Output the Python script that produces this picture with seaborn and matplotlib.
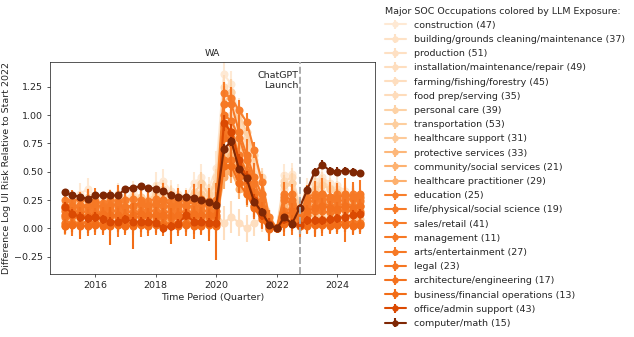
import numpy as np
import pandas as pd
import matplotlib
matplotlib.use("Agg")
import matplotlib.pyplot as plt
import seaborn as sns
from matplotlib.legend_handler import HandlerTuple

# ---------------- data ----------------
quarters = list(np.arange(2015.0, 2025.0, 0.25))  # 2015Q1 .. 2024Q4

occupations = [
    "construction (47)", "building/grounds cleaning/maintenance (37)", "production (51)",
    "installation/maintenance/repair (49)", "farming/fishing/forestry (45)", "food prep/serving (35)",
    "personal care (39)", "transportation (53)", "healthcare support (31)", "protective services (33)",
    "community/social services (21)", "healthcare practitioner (29)", "education (25)",
    "life/physical/social science (19)", "sales/retail (41)", "management (11)",
    "arts/entertainment (27)", "legal (23)", "architecture/engineering (17)",
    "business/financial operations (13)", "office/admin support (43)", "computer/math (15)",
]
llm_exposure = [0.10, 0.15, 0.16, 0.17, 0.17, 0.18, 0.24, 0.26, 0.27, 0.34, 0.36, 0.37,
                0.55, 0.56, 0.56, 0.57, 0.57, 0.58, 0.59, 0.61, 0.74, 1.00]

construction = [0.22,0.25,0.30,0.35,0.28,0.24,0.27,0.30,0.26,0.32,0.28,0.25,0.38,0.42,0.33,0.30,0.28,0.40,0.45,0.35,
                0.53,1.36,1.27,1.00,0.75,0.55,0.42,0.10,0.00,0.47,0.48,0.20,0.35,0.42,0.45,0.40,0.38,0.33,0.30,0.28]
construction_err = [0.08,0.07,0.10,0.09,0.08,0.07,0.08,0.10,0.09,0.10,0.08,0.08,0.12,0.10,0.10,0.09,0.08,0.10,0.12,0.10,
                    0.15,0.12,0.12,0.15,0.13,0.12,0.10,0.08,0.00,0.10,0.10,0.10,0.09,0.10,0.10,0.09,0.09,0.08,0.09,0.08]
building = [0.12,0.15,0.18,0.20,0.17,0.15,0.20,0.22,0.18,0.20,0.24,0.22,0.28,0.30,0.26,0.25,0.22,0.28,0.32,0.25,
            0.45,1.10,1.20,0.90,0.70,0.48,0.30,0.08,0.00,0.35,0.40,0.15,0.25,0.30,0.32,0.28,0.30,0.26,0.24,0.22]
building_err = [0.07,0.08,0.09,0.08,0.07,0.08,0.10,0.09,0.08,0.09,0.10,0.08,0.12,0.10,0.09,0.09,0.10,0.11,0.10,0.09,
                0.12,0.15,0.12,0.13,0.12,0.10,0.10,0.08,0.00,0.09,0.10,0.08,0.08,0.09,0.10,0.09,0.08,0.09,0.08,0.08]
production = [0.08,0.10,0.12,0.14,0.12,0.10,0.12,0.15,0.13,0.15,0.17,0.15,0.18,0.20,0.18,0.17,0.16,0.20,0.25,0.20,
              0.30,0.95,1.00,0.75,0.55,0.40,0.25,0.05,0.00,0.20,0.25,0.10,0.20,0.22,0.25,0.22,0.20,0.22,0.20,0.18]
production_err = [0.06,0.07,0.08,0.07,0.08,0.06,0.07,0.08,0.07,0.08,0.07,0.09,0.08,0.08,0.07,0.08,0.08,0.09,0.10,0.08,
                  0.10,0.12,0.12,0.10,0.10,0.09,0.08,0.07,0.00,0.08,0.09,0.07,0.07,0.08,0.08,0.07,0.08,0.07,0.08,0.07]
installation = [0.15,0.18,0.20,0.22,0.20,0.18,0.20,0.22,0.25,0.22,0.20,0.22,0.30,0.28,0.25,0.22,0.22,0.25,0.30,0.28,
                0.35,0.80,0.90,0.70,0.50,0.35,0.20,0.05,0.00,0.25,0.30,0.12,0.28,0.35,0.40,0.35,0.30,0.28,0.30,0.25]
installation_err = [0.07,0.08,0.08,0.09,0.08,0.07,0.08,0.09,0.10,0.08,0.08,0.09,0.11,0.10,0.09,0.08,0.08,0.09,0.11,0.10,
                    0.12,0.12,0.13,0.12,0.10,0.10,0.09,0.08,0.00,0.09,0.10,0.08,0.09,0.10,0.10,0.09,0.09,0.08,0.09,0.08]
farming = [0.05,0.08,0.10,0.12,0.10,0.08,0.10,0.12,0.10,0.08,0.12,0.10,0.15,0.12,0.10,0.12,0.10,0.15,0.18,0.12,
           0.12,0.05,0.10,0.05,0.00,0.05,0.08,0.02,0.00,0.10,0.15,0.05,0.05,0.08,0.10,0.08,0.05,0.10,0.08,0.05]
farming_err = [0.10,0.12,0.10,0.18,0.11,0.10,0.12,0.14,0.11,0.10,0.13,0.12,0.15,0.12,0.11,0.13,0.12,0.14,0.15,0.12,
               0.14,0.15,0.14,0.12,0.12,0.12,0.11,0.10,0.00,0.12,0.13,0.11,0.10,0.12,0.12,0.11,0.10,0.12,0.11,0.10]
food_prep = [0.20,0.22,0.25,0.28,0.25,0.20,0.24,0.30,0.25,0.28,0.26,0.24,0.32,0.35,0.30,0.28,0.25,0.32,0.38,0.30,
             0.45,1.25,1.15,0.95,0.80,0.60,0.45,0.10,0.00,0.42,0.45,0.20,0.30,0.38,0.42,0.36,0.35,0.30,0.28,0.26]
food_prep_err = [0.06,0.07,0.08,0.08,0.07,0.06,0.07,0.08,0.07,0.08,0.07,0.07,0.09,0.08,0.08,0.07,0.07,0.08,0.09,0.08,
                 0.10,0.10,0.10,0.09,0.09,0.08,0.08,0.07,0.00,0.08,0.08,0.07,0.07,0.08,0.08,0.07,0.07,0.07,0.07,0.07]
personal_care = [0.18,0.20,0.22,0.25,0.22,0.20,0.22,0.25,0.22,0.25,0.28,0.25,0.30,0.32,0.28,0.25,0.25,0.30,0.40,0.30,
                 0.40,1.10,1.20,1.00,0.85,0.65,0.42,0.08,0.00,0.38,0.40,0.18,0.30,0.35,0.38,0.35,0.32,0.30,0.28,0.26]
personal_care_err = [0.07,0.08,0.08,0.09,0.08,0.07,0.08,0.09,0.08,0.09,0.09,0.08,0.10,0.09,0.09,0.08,0.08,0.09,0.10,0.09,
                     0.12,0.12,0.12,0.11,0.10,0.10,0.09,0.08,0.00,0.09,0.09,0.08,0.08,0.09,0.09,0.08,0.08,0.08,0.08,0.08]
transportation = [0.10,0.12,0.15,0.18,0.15,0.12,0.15,0.18,0.15,0.17,0.20,0.18,0.22,0.25,0.20,0.20,0.18,0.22,0.30,0.22,
                  0.25,0.90,0.95,0.75,0.60,0.45,0.30,0.05,0.00,0.22,0.25,0.10,0.18,0.22,0.25,0.22,0.20,0.20,0.22,0.20]
transportation_err = [0.05,0.06,0.06,0.07,0.06,0.05,0.06,0.07,0.06,0.06,0.07,0.06,0.07,0.07,0.06,0.06,0.06,0.07,0.08,0.07,
                      0.08,0.10,0.10,0.09,0.08,0.08,0.07,0.06,0.00,0.07,0.07,0.06,0.06,0.07,0.07,0.06,0.06,0.06,0.06,0.06]
healthcare_support = [0.05,0.08,0.10,0.10,0.08,0.06,0.08,0.10,0.08,0.10,0.12,0.10,0.12,0.15,0.12,0.10,0.10,0.12,0.15,0.12,
                      0.15,0.65,0.70,0.50,0.40,0.30,0.20,0.03,0.00,0.12,0.15,0.05,0.10,0.12,0.15,0.12,0.10,0.12,0.10,0.08]
healthcare_support_err = [0.06,0.07,0.07,0.08,0.07,0.06,0.07,0.08,0.07,0.07,0.08,0.07,0.08,0.08,0.07,0.07,0.07,0.08,0.09,0.08,
                          0.09,0.11,0.11,0.10,0.09,0.09,0.08,0.07,0.00,0.08,0.08,0.07,0.07,0.08,0.08,0.07,0.07,0.07,0.07,0.07]
protective = [0.12,0.15,0.15,0.18,0.15,0.12,0.14,0.16,0.15,0.15,0.18,0.16,0.20,0.22,0.18,0.16,0.15,0.20,0.22,0.18,
              0.20,0.60,0.65,0.50,0.40,0.30,0.20,0.04,0.00,0.20,0.22,0.10,0.15,0.18,0.20,0.18,0.16,0.18,0.16,0.15]
protective_err = [0.07,0.08,0.08,0.09,0.08,0.07,0.08,0.09,0.08,0.08,0.09,0.08,0.10,0.09,0.08,0.08,0.08,0.09,0.10,0.09,
                  0.10,0.12,0.12,0.11,0.10,0.10,0.09,0.08,0.00,0.09,0.09,0.08,0.08,0.09,0.09,0.08,0.08,0.08,0.08,0.08]
community = [0.02,0.04,0.05,0.06,0.05,0.03,0.05,0.06,0.05,0.05,0.06,0.05,0.08,0.08,0.06,0.05,0.05,0.08,0.10,0.06,
             0.08,0.50,0.55,0.40,0.30,0.20,0.12,0.02,0.00,0.08,0.10,0.03,0.05,0.06,0.08,0.06,0.05,0.06,0.05,0.05]
community_err = [0.08,0.09,0.09,0.10,0.09,0.08,0.09,0.10,0.09,0.09,0.10,0.09,0.11,0.10,0.09,0.09,0.09,0.10,0.11,0.10,
                 0.12,0.13,0.13,0.12,0.11,0.11,0.10,0.09,0.00,0.10,0.10,0.09,0.09,0.10,0.10,0.09,0.09,0.09,0.09,0.09]
hc_practitioner = [0.03,0.05,0.06,0.05,0.04,0.03,0.05,0.05,0.04,0.05,0.06,0.05,0.06,0.07,0.05,0.05,0.04,0.06,0.08,0.05,
                   0.06,0.45,0.50,0.35,0.30,0.20,0.10,0.01,0.00,0.06,0.08,0.02,0.03,0.04,0.05,0.04,0.03,0.05,0.04,0.03]
hc_practitioner_err = [0.05,0.06,0.06,0.07,0.06,0.05,0.06,0.07,0.06,0.06,0.07,0.06,0.07,0.07,0.06,0.06,0.06,0.07,0.08,0.07,
                       0.08,0.10,0.10,0.09,0.08,0.08,0.07,0.06,0.00,0.07,0.07,0.06,0.06,0.07,0.07,0.06,0.06,0.06,0.06,0.06]
education = [0.25,0.24,0.26,0.25,0.24,0.22,0.25,0.24,0.25,0.26,0.25,0.24,0.26,0.25,0.24,0.25,0.24,0.25,0.26,0.24,
             0.25,1.19,1.15,1.04,0.94,0.69,0.41,0.10,0.00,0.30,0.30,0.12,0.28,0.30,0.30,0.28,0.30,0.28,0.30,0.28]
education_err = [0.05,0.05,0.06,0.05,0.05,0.05,0.06,0.05,0.05,0.06,0.05,0.05,0.06,0.05,0.05,0.05,0.05,0.06,0.06,0.05,
                 0.07,0.10,0.09,0.09,0.08,0.07,0.07,0.06,0.00,0.06,0.06,0.05,0.05,0.06,0.06,0.05,0.05,0.05,0.06,0.05]
life_science = [0.20,0.19,0.21,0.20,0.19,0.20,0.21,0.20,0.19,0.20,0.21,0.20,0.21,0.20,0.19,0.20,0.20,0.19,0.21,0.20,
                0.22,1.00,0.95,0.80,0.60,0.40,0.25,0.05,0.00,0.25,0.22,0.10,0.22,0.25,0.26,0.25,0.24,0.25,0.26,0.24]
life_science_err = [0.10,0.12,0.11,0.13,0.12,0.10,0.12,0.14,0.11,0.12,0.13,0.12,0.12,0.13,0.11,0.12,0.12,0.13,0.12,0.12,
                    0.14,0.20,0.18,0.15,0.14,0.13,0.12,0.11,0.00,0.12,0.13,0.11,0.11,0.12,0.12,0.11,0.11,0.12,0.11,0.11]
sales_retail = [0.15,0.16,0.14,0.15,0.15,0.14,0.16,0.15,0.15,0.14,0.15,0.16,0.15,0.14,0.15,0.15,0.14,0.15,0.16,0.15,
                0.15,0.90,0.85,0.65,0.50,0.32,0.18,0.02,0.00,0.15,0.18,0.05,0.18,0.20,0.22,0.20,0.20,0.22,0.20,0.20]
sales_retail_err = [0.04,0.04,0.05,0.04,0.04,0.04,0.05,0.04,0.04,0.05,0.04,0.04,0.05,0.04,0.04,0.04,0.04,0.05,0.05,0.04,
                    0.06,0.08,0.08,0.07,0.07,0.06,0.06,0.05,0.00,0.05,0.05,0.04,0.04,0.05,0.05,0.04,0.04,0.04,0.05,0.04]
management = [0.10,0.11,0.10,0.09,0.10,0.10,0.11,0.10,0.09,0.10,0.10,0.11,0.10,0.10,0.09,0.10,0.10,0.10,0.11,0.10,
              0.10,0.85,0.80,0.55,0.45,0.30,0.15,0.03,0.00,0.10,0.12,0.05,0.12,0.15,0.15,0.14,0.15,0.16,0.15,0.14]
management_err = [0.05,0.05,0.06,0.05,0.05,0.05,0.06,0.05,0.05,0.06,0.05,0.05,0.06,0.05,0.05,0.05,0.05,0.06,0.06,0.05,
                  0.07,0.09,0.09,0.08,0.08,0.07,0.07,0.06,0.00,0.06,0.06,0.05,0.05,0.06,0.06,0.05,0.05,0.05,0.06,0.05]
arts = [0.18,0.20,0.17,0.20,0.22,0.18,0.20,0.22,0.19,0.20,0.23,0.20,0.22,0.25,0.20,0.22,0.20,0.24,0.25,0.22,
        0.22,1.10,1.10,0.85,0.65,0.45,0.30,0.05,0.00,0.28,0.25,0.12,0.25,0.28,0.30,0.28,0.27,0.30,0.28,0.30]
arts_err = [0.12,0.14,0.13,0.15,0.14,0.12,0.14,0.16,0.13,0.14,0.15,0.14,0.14,0.15,0.13,0.14,0.14,0.15,0.14,0.14,
            0.18,0.16,0.15,0.15,0.14,0.13,0.12,0.11,0.00,0.13,0.14,0.12,0.13,0.14,0.14,0.13,0.13,0.14,0.13,0.13]
legal = [0.05,0.05,0.04,0.06,0.05,0.04,0.05,0.06,0.05,0.04,0.05,0.05,0.06,0.05,0.04,0.05,0.05,0.04,0.06,0.05,
         0.04,0.60,0.60,0.45,0.35,0.20,0.10,0.00,0.00,0.05,0.06,0.02,0.05,0.06,0.05,0.06,0.05,0.06,0.05,0.05]
legal_err = [0.10,0.12,0.10,0.13,0.11,0.10,0.12,0.14,0.11,0.10,0.13,0.12,0.12,0.12,0.10,0.12,0.12,0.13,0.12,0.12,
             0.14,0.15,0.15,0.14,0.13,0.12,0.11,0.10,0.00,0.12,0.12,0.11,0.10,0.14,0.12,0.11,0.10,0.18,0.11,0.10]
architecture = [0.12,0.13,0.12,0.11,0.12,0.13,0.12,0.12,0.11,0.12,0.13,0.12,0.12,0.12,0.11,0.12,0.12,0.13,0.12,0.12,
                0.12,0.80,0.75,0.55,0.42,0.28,0.15,0.02,0.00,0.12,0.15,0.06,0.15,0.18,0.20,0.18,0.17,0.20,0.18,0.20]
architecture_err = [0.06,0.06,0.07,0.06,0.06,0.06,0.07,0.06,0.06,0.07,0.06,0.06,0.07,0.06,0.06,0.06,0.06,0.07,0.07,0.06,
                    0.08,0.10,0.10,0.09,0.09,0.08,0.08,0.07,0.00,0.07,0.07,0.06,0.06,0.07,0.07,0.06,0.06,0.06,0.07,0.06]
business = [0.02,0.03,0.02,0.02,0.03,0.02,0.02,0.03,0.02,0.02,0.03,0.02,0.03,0.02,0.02,0.02,0.03,0.02,0.02,0.03,
            0.02,0.55,0.55,0.40,0.30,0.18,0.08,-0.01,0.00,0.04,0.05,0.02,0.02,0.03,0.03,0.02,0.03,0.03,0.02,0.03]
business_err = [0.06,0.06,0.11,0.06,0.06,0.06,0.17,0.06,0.06,0.20,0.06,0.06,0.07,0.06,0.16,0.06,0.06,0.07,0.07,0.14,
                0.30,0.10,0.10,0.09,0.09,0.08,0.08,0.10,0.00,0.07,0.07,0.06,0.06,0.10,0.07,0.06,0.06,0.06,0.07,0.06]
office_admin = [0.19,0.13,0.10,0.09,0.10,0.08,0.06,0.06,0.08,0.06,0.06,0.06,0.05,0.00,0.02,0.04,0.12,0.06,0.06,0.05,
                0.05,0.93,0.85,0.60,0.45,0.25,0.12,0.04,0.00,0.08,0.04,0.03,0.07,0.07,0.07,0.08,0.09,0.10,0.12,0.13]
office_admin_err = [0.04,0.04,0.04,0.04,0.04,0.04,0.04,0.04,0.04,0.04,0.04,0.04,0.04,0.04,0.04,0.04,0.05,0.04,0.04,0.04,
                    0.05,0.07,0.07,0.06,0.06,0.05,0.05,0.05,0.00,0.04,0.04,0.04,0.04,0.04,0.04,0.04,0.04,0.04,0.04,0.04]
computer_math = [0.32,0.29,0.28,0.26,0.29,0.29,0.29,0.29,0.35,0.36,0.37,0.36,0.35,0.33,0.29,0.28,0.28,0.27,0.25,0.23,
                 0.21,0.70,0.77,0.52,0.44,0.235,0.147,0.03,0.00,0.10,0.04,0.18,0.34,0.50,0.56,0.51,0.50,0.51,0.50,0.485]
computer_math_err = [0.02,0.02,0.02,0.02,0.02,0.02,0.02,0.02,0.02,0.02,0.02,0.02,0.02,0.02,0.02,0.02,0.02,0.02,0.02,0.02,
                     0.03,0.04,0.04,0.03,0.03,0.03,0.03,0.03,0.00,0.03,0.03,0.03,0.03,0.03,0.04,0.03,0.04,0.03,0.03,0.02]

series_values = [construction, building, production, installation, farming, food_prep, personal_care,
                 transportation, healthcare_support, protective, community, hc_practitioner, education,
                 life_science, sales_retail, management, arts, legal, architecture, business,
                 office_admin, computer_math]
series_errors = [construction_err, building_err, production_err, installation_err, farming_err, food_prep_err,
                 personal_care_err, transportation_err, healthcare_support_err, protective_err, community_err,
                 hc_practitioner_err, education_err, life_science_err, sales_retail_err, management_err, arts_err,
                 legal_err, architecture_err, business_err, office_admin_err, computer_math_err]

chatgpt_launch = 2022.75

rows = []
for occ, vals, errs in zip(occupations, series_values, series_errors):
    for t, v, e in zip(quarters, vals, errs):
        rows.append({"time": t, "value": v, "err": e, "occupation": occ})
df = pd.DataFrame(rows)

# ---------------- plot ----------------
sns.set_style("ticks")
plt.rcParams["font.family"] = ["DejaVu Sans"]
plt.rcParams["font.size"] = 10

DPI = 68
fig = plt.figure(figsize=(634 / DPI, 337 / DPI), dpi=DPI)
ax = fig.add_axes([50 / 634, 1 - 274 / 337, 325 / 634, 212 / 337])

cmap = sns.color_palette("Oranges", as_cmap=True)
colors = [cmap(v) for v in llm_exposure]

sns.lineplot(data=df, x="time", y="value", hue="occupation", hue_order=occupations,
             palette=colors, marker="o", markersize=8.5, markeredgewidth=0,
             linewidth=2.2, errorbar=None, legend=False, ax=ax)

lines = list(ax.lines)
handles = []
for i, (occ, col) in enumerate(zip(occupations, colors)):
    sub = df[df["occupation"] == occ]
    lines[i].set_zorder(3 + 2 * i)
    eb = ax.errorbar(sub["time"], sub["value"], yerr=sub["err"], fmt="none",
                     ecolor=col, elinewidth=2.2, capsize=0, zorder=2 + 2 * i)
    handles.append((eb, lines[i]))

ax.axvline(chatgpt_launch, color="darkgrey", linestyle="--", linewidth=2, zorder=100)
ax.text(chatgpt_launch - 0.05, 1.39, "ChatGPT\nLaunch", ha="right", va="top", fontsize=10)

ax.set_xlim(2014.51, 2025.24)
ax.set_ylim(-0.403, 1.468)
ax.set_xticks([2016, 2018, 2020, 2022, 2024])
ax.set_yticks([-0.25, 0.0, 0.25, 0.5, 0.75, 1.0, 1.25])
ax.set_title("WA", fontsize=10)
ax.set_xlabel("Time Period (Quarter)")
ax.set_ylabel("Difference Log UI Risk Relative to Start 2022")

leg = fig.legend(handles, occupations, loc="upper left", bbox_to_anchor=(378 / 634, 1.0),
                 bbox_transform=fig.transFigure, frameon=False, fontsize=10,
                 title="Major SOC Occupations colored by LLM Exposure:", title_fontsize=10,
                 alignment="left", handlelength=2.3, labelspacing=0.55, markerscale=0.8,
                 handler_map={tuple: HandlerTuple(ndivide=1)}, borderaxespad=0.3)

fig.savefig("out.png", dpi=DPI)
